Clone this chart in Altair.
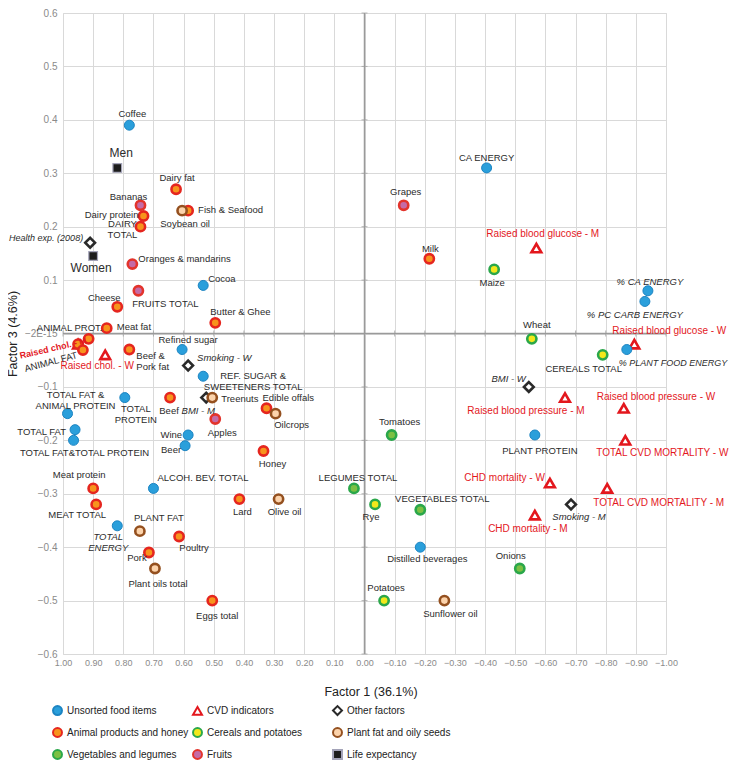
import altair as alt
import pandas as pd

# ---------------- data ----------------
categories = ["Unsorted food items", "CVD indicators", "Other factors",
              "Animal products and honey", "Cereals and potatoes", "Plant fat and oily seeds",
              "Vegetables and legumes", "Fruits", "Life expectancy"]

unsorted_names = ["Coffee", "Cocoa", "Refined sugar", "REF. SUGAR &\nSWEETENERS TOTAL", "TOTAL\nPROTEIN",
                  "TOTAL FAT &\nANIMAL PROTEIN", "TOTAL FAT", "TOTAL FAT&TOTAL PROTEIN", "Wine", "Beer",
                  "ALCOH. BEV. TOTAL", "TOTAL\nENERGY", "CA ENERGY", "% CA ENERGY", "% PC  CARB ENERGY",
                  "% PLANT FOOD ENERGY", "PLANT PROTEIN", "Distilled beverages"]
unsorted_f1 = [0.78, 0.535, 0.605, 0.535, 0.795, 0.985, 0.96, 0.965, 0.585, 0.595, 0.70, 0.82,
               -0.405, -0.94, -0.93, -0.87, -0.565, -0.185]
unsorted_f3 = [0.39, 0.09, -0.03, -0.08, -0.12, -0.15, -0.18, -0.20, -0.19, -0.21, -0.29, -0.36,
               0.31, 0.08, 0.06, -0.03, -0.19, -0.40]

animal_names = ["Dairy fat", "Fish & Seafood", "Dairy protein", "DAIRY\nTOTAL", "Cheese", "Meat fat",
                "Butter & Ghee", "ANIMAL PROT.", "", "ANIMAL FAT", "Beef &\nPork fat", "Beef",
                "Edible offals", "Honey", "Lard", "Meat protein", "MEAT TOTAL", "Poultry", "Pork",
                "Eggs total", "Milk"]
animal_f1 = [0.625, 0.585, 0.733, 0.743, 0.82, 0.855, 0.495, 0.915, 0.95, 0.934, 0.78, 0.645,
             0.325, 0.335, 0.415, 0.90, 0.89, 0.615, 0.715, 0.505, -0.215]
animal_f3 = [0.27, 0.23, 0.22, 0.20, 0.05, 0.01, 0.02, -0.01, -0.02, -0.031, -0.03, -0.12,
             -0.14, -0.22, -0.31, -0.29, -0.32, -0.38, -0.41, -0.50, 0.14]

plantfat_names = ["Soybean oil", "Treenuts", "Oilcrops", "Olive oil", "PLANT FAT", "Plant oils total",
                  "Sunflower oil"]
plantfat_f1 = [0.605, 0.505, 0.295, 0.285, 0.745, 0.695, -0.265]
plantfat_f3 = [0.23, -0.12, -0.15, -0.31, -0.37, -0.44, -0.50]

fruit_names = ["Bananas", "Oranges & mandarins", "FRUITS TOTAL", "Apples", "Grapes"]
fruit_f1 = [0.743, 0.77, 0.75, 0.495, -0.13]
fruit_f3 = [0.24, 0.13, 0.08, -0.16, 0.24]

veg_names = ["Tomatoes", "LEGUMES TOTAL", "VEGETABLES TOTAL", "Onions"]
veg_f1 = [-0.09, 0.035, -0.185, -0.515]
veg_f3 = [-0.19, -0.29, -0.33, -0.44]

cereal_names = ["Maize", "Wheat", "CEREALS TOTAL", "Rye", "Potatoes"]
cereal_f1 = [-0.43, -0.555, -0.79, -0.035, -0.065]
cereal_f3 = [0.12, -0.01, -0.04, -0.32, -0.50]

cvd_names = ["Raised blood glucose - M", "Raised blood glucose - W", "Raised blood pressure - M",
             "Raised blood pressure - W", "TOTAL CVD MORTALITY - W", "CHD mortality - W",
             "TOTAL CVD MORTALITY - M", "CHD mortality - M", "Raised chol. - W", "Raised chol. - M"]
cvd_f1 = [-0.57, -0.895, -0.665, -0.86, -0.865, -0.615, -0.805, -0.565, 0.86, 0.95]
cvd_f3 = [0.16, -0.02, -0.12, -0.14, -0.20, -0.28, -0.29, -0.34, -0.04, -0.02]

other_names = ["Health exp. (2008)", "Smoking - W", "BMI - M", "BMI - W", "Smoking - M"]
other_f1 = [0.91, 0.585, 0.525, -0.545, -0.685]
other_f3 = [0.17, -0.06, -0.12, -0.10, -0.32]

life_names = ["Men", "Women"]
life_f1 = [0.82, 0.90]
life_f3 = [0.31, 0.145]

x_ticks = [1.0, 0.9, 0.8, 0.7, 0.6, 0.5, 0.4, 0.3, 0.2, 0.1, 0.0,
           -0.1, -0.2, -0.3, -0.4, -0.5, -0.6, -0.7, -0.8, -0.9, -1.0]
y_ticks = [0.6, 0.5, 0.4, 0.3, 0.2, 0.1, 0.0, -0.1, -0.2, -0.3, -0.4, -0.5, -0.6]

# ---------------- styling / layout ----------------
W, H = 603, 641
PX = W / 2.0
PY = H / 1.2
LH = 11  # line height of multi-line labels
FONT = "Liberation Sans, Arial, sans-serif"

shapes = ["circle", "triangle-up", "diamond", "circle", "circle", "circle", "circle", "circle", "square"]
fills = ["#2a9fdb", "#ffffff", "#ffffff", "#f7941d", "#f3e81b", "#fcd3ab", "#7cc043", "#c56ba6", "#1c1c1c"]
strokes = ["#1c84c2", "#e3171d", "#2a2a2a", "#e5261f", "#2aa74a", "#94501f", "#2aa74a", "#e3342c", "#a3a3b8"]
msizes = {"Unsorted food items": 100, "CVD indicators": 95, "Other factors": 95,
          "Animal products and honey": 85, "Cereals and potatoes": 85, "Plant fat and oily seeds": 85,
          "Vegetables and legumes": 85, "Fruits": 85, "Life expectancy": 75}
mstrokew = {"Unsorted food items": 1, "CVD indicators": 2.6, "Other factors": 2.6,
            "Animal products and honey": 2.6, "Cereals and potatoes": 2.6, "Plant fat and oily seeds": 2.6,
            "Vegetables and legumes": 2.6, "Fruits": 2.6, "Life expectancy": 1.2}
label_color = {"CVD indicators": "#e3171d"}
label_size = {"CVD indicators": 10, "Life expectancy": 12}
size_override = {"Health exp. (2008)": 9, "Raised chol. - M": 9, "% PLANT FOOD ENERGY": 9}

# label placement: (dx px, dy px, align, style, angle)
label_pos = {
    "Coffee": (3, -11, "center", "n", 0), "Cocoa": (5, -6, "left", "n", 0),
    "Refined sugar": (6, -10, "center", "n", 0),
    "REF. SUGAR &\nSWEETENERS TOTAL": (50, 5, "center", "n", 0),
    "TOTAL\nPROTEIN": (11, 17, "center", "n", 0),
    "TOTAL FAT &\nANIMAL PROTEIN": (8, -13, "center", "n", 0),
    "TOTAL FAT": (-9, 2, "right", "n", 0),
    "TOTAL FAT&TOTAL PROTEIN": (11, 13, "center", "n", 0),
    "Wine": (-6, 0, "right", "n", 0), "Beer": (-4, 4, "right", "n", 0),
    "ALCOH. BEV. TOTAL": (4, -10, "left", "n", 0),
    "TOTAL\nENERGY": (-9, 17, "center", "i", 0),
    "CA ENERGY": (0, -10, "center", "n", 0), "% CA ENERGY": (2, -9, "center", "i", 0),
    "% PC  CARB ENERGY": (-10, 14, "center", "i", 0),
    "% PLANT FOOD ENERGY": (-8, 13, "left", "i", 0),
    "PLANT PROTEIN": (5, 16, "center", "n", 0),
    "Distilled beverages": (7, 12, "center", "n", 0),
    "Dairy fat": (1, -11, "center", "n", 0), "Fish & Seafood": (10, -1, "left", "n", 0),
    "Dairy protein": (-5, -1, "right", "n", 0), "DAIRY\nTOTAL": (-18, 3, "center", "n", 0),
    "Cheese": (-13, -9, "center", "n", 0), "Meat fat": (10, -1, "left", "n", 0),
    "Butter & Ghee": (-5, -11, "left", "n", 0), "ANIMAL PROT.": (-19, -11, "center", "n", 0),
    "ANIMAL FAT": (-32, 12, "center", "n", 345), "Beef &\nPork fat": (7, 12, "left", "n", 0),
    "Beef": (-1, 13, "center", "n", 0), "Edible offals": (-4, -10, "left", "n", 0),
    "Honey": (9, 13, "center", "n", 0), "Lard": (3, 13, "center", "n", 0),
    "Meat protein": (-14, -13, "center", "n", 0), "MEAT TOTAL": (-19, 11, "center", "n", 0),
    "Poultry": (15, 12, "center", "n", 0), "Pork": (-12, 5, "center", "n", 0),
    "Eggs total": (5, 15, "center", "n", 0), "Milk": (1, -10, "center", "n", 0),
    "Soybean oil": (3, 13, "center", "n", 0), "Treenuts": (9, 1, "left", "n", 0),
    "Oilcrops": (16, 11, "center", "n", 0), "Olive oil": (6, 13, "center", "n", 0),
    "PLANT FAT": (19, -13, "center", "n", 0), "Plant oils total": (3, 15, "center", "n", 0),
    "Sunflower oil": (6, 13, "center", "n", 0),
    "Bananas": (-12, -8, "center", "n", 0), "Oranges & mandarins": (6, -5, "left", "n", 0),
    "FRUITS TOTAL": (27, 13, "center", "n", 0), "Apples": (7, 14, "center", "n", 0),
    "Grapes": (2, -13, "center", "n", 0),
    "Tomatoes": (8, -13, "center", "n", 0), "LEGUMES TOTAL": (4, -10, "center", "n", 0),
    "VEGETABLES TOTAL": (22, -11, "center", "n", 0), "Onions": (-9, -13, "center", "n", 0),
    "Maize": (-2, 14, "center", "n", 0), "Wheat": (5, -14, "center", "n", 0),
    "CEREALS TOTAL": (-19, 14, "center", "n", 0), "Rye": (-4, 13, "center", "n", 0),
    "Potatoes": (2, -13, "center", "n", 0),
    "Raised blood glucose - M": (-50, -14, "left", "n", 0),
    "Raised blood glucose - W": (-22, -13, "left", "n", 0),
    "Raised blood pressure - M": (-39, 13, "center", "n", 0),
    "Raised blood pressure - W": (-27, -11, "left", "n", 0),
    "TOTAL CVD MORTALITY - W": (-29, 13, "left", "n", 0),
    "CHD mortality - W": (-5, -5, "right", "n", 0),
    "TOTAL CVD MORTALITY - M": (-14, 15, "left", "n", 0),
    "CHD mortality - M": (-7, 14, "center", "n", 0),
    "Raised chol. - W": (-8, 11, "center", "n", 0),
    "Raised chol. - M": (-25, 4, "center", "b", 347),
    "Health exp. (2008)": (-7, -5, "right", "i", 0), "Smoking - W": (9, -8, "left", "i", 0),
    "BMI - M": (-8, 13, "center", "i", 0), "BMI - W": (-3, -8, "right", "i", 0),
    "Smoking - M": (8, 13, "center", "i", 0),
    "Men": (4, -15, "center", "n", 0), "Women": (-2, 12, "center", "n", 0),
}

# draw order: indicators first, circles on top
groups = [
    ("CVD indicators", cvd_names, cvd_f1, cvd_f3),
    ("Other factors", other_names, other_f1, other_f3),
    ("Life expectancy", life_names, life_f1, life_f3),
    ("Unsorted food items", unsorted_names, unsorted_f1, unsorted_f3),
    ("Animal products and honey", animal_names, animal_f1, animal_f3),
    ("Plant fat and oily seeds", plantfat_names, plantfat_f1, plantfat_f3),
    ("Fruits", fruit_names, fruit_f1, fruit_f3),
    ("Vegetables and legumes", veg_names, veg_f1, veg_f3),
    ("Cereals and potatoes", cereal_names, cereal_f1, cereal_f3),
]

prow, lrow = [], []
order = 0
for cat, names, f1, f3 in groups:
    for n, a, b in zip(names, f1, f3):
        prow.append({"cat": cat, "name": n, "x": a, "y": b, "msize": msizes[cat],
                     "msw": mstrokew[cat], "ord": order})
        order += 1
        if n:
            dx, dy, al, st, ang = label_pos[n]
            nlines = n.count("\n") + 1
            dy = dy - (nlines - 1) * LH / 2.0  # centre multi-line blocks
            fs = size_override.get(n, label_size.get(cat, 9.5))
            lrow.append({"label": n, "x": a - dx / PX, "y": b - dy / PY, "align": al, "style": st,
                         "angle": ang, "tcolor": label_color.get(cat, "#2b2b2b"), "fsize": fs})
points = pd.DataFrame(prow)
labels = pd.DataFrame(lrow)

xscale = alt.Scale(domain=[-1, 1], reverse=True, nice=False, zero=False)
yscale = alt.Scale(domain=[-0.6, 0.6], nice=False, zero=False)
X = alt.X("x:Q", scale=xscale,
          axis=alt.Axis(values=x_ticks, format=".2f", title="Factor 1 (36.1%)", titleX=W / 2 + 6, titleY=31,
                        titleFontSize=12.5, titleFontWeight="normal", titleColor="#222",
                        labelFontSize=9, labelColor="#8a8a8a", labelPadding=4, ticks=False, domain=False,
                        labelOverlap=False, labelFlush=False, grid=True, gridColor="#d9d9d9",
                        labelFont=FONT, titleFont=FONT))
Y = alt.Y("y:Q", scale=yscale,
          axis=alt.Axis(values=y_ticks, labelExpr="datum.value == 0 ? '\u22122E-15' : format(datum.value, '.1f')",
                        title="Factor 3 (4.6%)", titleX=-51, titleY=H / 2, titleAngle=270,
                        titleAlign="center", titleBaseline="middle",
                        titleFontSize=12.5, titleFontWeight="normal", titleColor="#222",
                        labelFontSize=10, labelColor="#8a8a8a", labelPadding=6, ticks=False, domain=False,
                        labelOverlap=False, labelFlush=False, grid=True, gridColor="#d9d9d9",
                        labelFont=FONT, titleFont=FONT))

vline = alt.Chart(pd.DataFrame({"x": [0.0]})).mark_rule(color="#9a9a9a", strokeWidth=1.5).encode(x=X)
hline = alt.Chart(pd.DataFrame({"y": [0.0]})).mark_rule(color="#9a9a9a", strokeWidth=1.5).encode(y=Y)
xt = alt.Chart(pd.DataFrame({"x": x_ticks, "y": [0.0] * len(x_ticks)})).mark_tick(
    orient="vertical", size=6, thickness=1, color="#9a9a9a").encode(x=X, y=Y)
yt = alt.Chart(pd.DataFrame({"x": [0.0] * len(y_ticks), "y": y_ticks})).mark_tick(
    orient="horizontal", size=6, thickness=1, color="#9a9a9a").encode(x=X, y=Y)

leg = alt.Legend(orient="none", legendX=-11, legendY=692, columns=3, title=None, symbolSize=80,
                 symbolStrokeWidth=2, labelFontSize=10, labelColor="#222", labelFont=FONT,
                 columnPadding=0, rowPadding=5, labelLimit=300, direction="horizontal",
                 gridAlign="all")

pts = alt.Chart(points).mark_point(filled=True, opacity=1, fillOpacity=1).encode(
    x=X, y=Y,
    shape=alt.Shape("cat:N", scale=alt.Scale(domain=categories, range=shapes), legend=leg),
    fill=alt.Fill("cat:N", scale=alt.Scale(domain=categories, range=fills), legend=leg),
    stroke=alt.Stroke("cat:N", scale=alt.Scale(domain=categories, range=strokes), legend=leg),
    size=alt.Size("msize:Q", scale=None),
    strokeWidth=alt.StrokeWidth("msw:Q", scale=None),
    order=alt.Order("ord:Q"),
)

text_layers = []
for al in ["left", "center", "right"]:
    for st in ["n", "i", "b"]:
        sub = labels[(labels["align"] == al) & (labels["style"] == st)]
        if len(sub) == 0:
            continue
        kw = {}
        if st == "i":
            kw["fontStyle"] = "italic"
        if st == "b":
            kw["fontWeight"] = "bold"
        text_layers.append(
            alt.Chart(labels).transform_filter(
                f"datum.align == '{al}' && datum.style == '{st}'"
            ).mark_text(align=al, baseline="middle", lineBreak="\n", lineHeight=LH, font=FONT, **kw).encode(
                x=X, y=Y, text="label:N",
                color=alt.Color("tcolor:N", scale=None),
                size=alt.Size("fsize:Q", scale=None),
                angle=alt.Angle("angle:Q", scale=None),
            )
        )

chart = alt.layer(vline, hline, xt, yt, pts, *text_layers).properties(
    width=W, height=H,
    autosize=alt.AutoSizeParams(type="none"),
    padding={"left": 55, "top": 5, "right": 721 - 55 - W, "bottom": 110},
).configure_view(fill="#f0f0f0", stroke="#d4d4d4").configure(font=FONT, background="white")

chart.save("out.html", embed_options={"renderer": "svg", "actions": False})
